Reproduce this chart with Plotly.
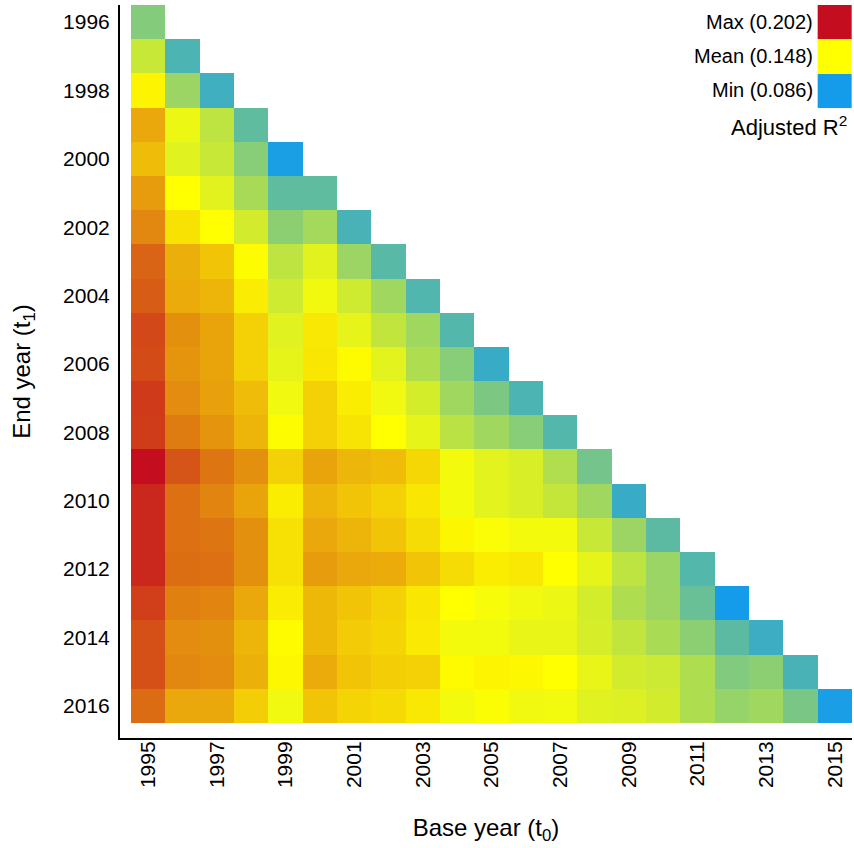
import plotly.graph_objects as go

base_years = list(range(1995, 2016))
end_years = list(range(1996, 2017))

# Adjusted R^2 for each end year (row), base years 1995 .. end-1
r2_1996 = [0.1156]
r2_1997 = [0.1335, 0.1008]
r2_1998 = [0.1505, 0.1219, 0.0976]
r2_1999 = [0.1675, 0.1430, 0.1309, 0.1060]
r2_2000 = [0.1630, 0.1398, 0.1335, 0.1166, 0.0876]
r2_2001 = [0.1702, 0.1480, 0.1400, 0.1250, 0.1060, 0.1060]
r2_2002 = [0.1747, 0.1545, 0.1480, 0.1361, 0.1177, 0.1240, 0.1000]
r2_2003 = [0.1827, 0.1660, 0.1612, 0.1487, 0.1309, 0.1400, 0.1220, 0.1040]
r2_2004 = [0.1845, 0.1666, 0.1648, 0.1523, 0.1351, 0.1442, 0.1351, 0.1230, 0.1020]
r2_2005 = [0.1890, 0.1729, 0.1684, 0.1585, 0.1398, 0.1532, 0.1414, 0.1320, 0.1230, 0.1030]
r2_2006 = [0.1880, 0.1720, 0.1684, 0.1585, 0.1414, 0.1536, 0.1490, 0.1403, 0.1270, 0.1166, 0.0955]
r2_2007 = [0.1920, 0.1738, 0.1693, 0.1630, 0.1440, 0.1585, 0.1520, 0.1440, 0.1367, 0.1230, 0.1135, 0.1008]
r2_2008 = [0.1917, 0.1774, 0.1720, 0.1648, 0.1487, 0.1585, 0.1540, 0.1480, 0.1414, 0.1300, 0.1230, 0.1166, 0.1030]
r2_2009 = [0.2020, 0.1863, 0.1790, 0.1729, 0.1585, 0.1684, 0.1643, 0.1630, 0.1570, 0.1451, 0.1403, 0.1377, 0.1272, 0.1113]
r2_2010 = [0.1962, 0.1800, 0.1755, 0.1684, 0.1520, 0.1648, 0.1612, 0.1585, 0.1536, 0.1451, 0.1403, 0.1377, 0.1324, 0.1230, 0.0955]
r2_2011 = [0.1962, 0.1800, 0.1790, 0.1729, 0.1550, 0.1675, 0.1648, 0.1612, 0.1558, 0.1500, 0.1466, 0.1450, 0.1450, 0.1335, 0.1219, 0.1050]
r2_2012 = [0.1962, 0.1805, 0.1800, 0.1729, 0.1550, 0.1702, 0.1675, 0.1666, 0.1612, 0.1558, 0.1520, 0.1532, 0.1480, 0.1414, 0.1309, 0.1214, 0.1030]
r2_2013 = [0.1910, 0.1765, 0.1755, 0.1675, 0.1523, 0.1639, 0.1612, 0.1585, 0.1536, 0.1480, 0.1460, 0.1440, 0.1430, 0.1367, 0.1270, 0.1219, 0.1085, 0.0860]
r2_2014 = [0.1872, 0.1738, 0.1729, 0.1648, 0.1490, 0.1639, 0.1594, 0.1576, 0.1527, 0.1451, 0.1446, 0.1419, 0.1419, 0.1372, 0.1320, 0.1256, 0.1177, 0.1050, 0.0966]
r2_2015 = [0.1872, 0.1747, 0.1738, 0.1657, 0.1495, 0.1666, 0.1612, 0.1590, 0.1585, 0.1490, 0.1505, 0.1496, 0.1480, 0.1419, 0.1361, 0.1345, 0.1270, 0.1150, 0.1177, 0.1000]
r2_2016 = [0.1810, 0.1675, 0.1675, 0.1590, 0.1440, 0.1612, 0.1576, 0.1563, 0.1532, 0.1451, 0.1469, 0.1440, 0.1446, 0.1398, 0.1388, 0.1361, 0.1270, 0.1203, 0.1230, 0.1129, 0.0875]

rows = [r2_1996, r2_1997, r2_1998, r2_1999, r2_2000, r2_2001, r2_2002, r2_2003,
        r2_2004, r2_2005, r2_2006, r2_2007, r2_2008, r2_2009, r2_2010, r2_2011,
        r2_2012, r2_2013, r2_2014, r2_2015, r2_2016]

legend_names = ["Max", "Mean", "Min"]
legend_values = [0.202, 0.148, 0.086]
x_ticks = list(range(1995, 2016, 2))
y_ticks = list(range(1996, 2017, 2))

vmax, vmean, vmin = legend_values
colorscale = [[0.0, "#149CEB"], [(vmean - vmin) / (vmax - vmin), "#FFFF00"], [1.0, "#C40E20"]]

z = [row + [None] * (len(base_years) - len(row)) for row in rows]

FONT = "Liberation Sans, Arial, sans-serif"

fig = go.Figure()
fig.add_trace(go.Heatmap(
    x=base_years, y=end_years, z=z,
    colorscale=colorscale, zmin=vmin, zmax=vmax,
    showscale=False, hoverongaps=False,
))
# legend swatches (top-right)
fig.add_trace(go.Heatmap(
    x=[base_years[-1]], y=end_years[:3], z=[[v] for v in legend_values],
    colorscale=colorscale, zmin=vmin, zmax=vmax, showscale=False,
))
for name, val, yy in zip(legend_names, legend_values, end_years[:3]):
    fig.add_annotation(x=base_years[-1] - 0.5, y=yy, xref="x", yref="y",
                       text=f"{name} ({val:.3f})", showarrow=False,
                       xanchor="right", yanchor="middle", xshift=-3,
                       font=dict(family=FONT, size=20, color="black"))
fig.add_annotation(x=base_years[-1] + 0.5, y=end_years[3] + 0.05, xref="x", yref="y",
                   text="Adjusted R<sup>2</sup>", showarrow=False,
                   xanchor="right", yanchor="middle", xshift=-3,
                   font=dict(family=FONT, size=22, color="black"))

fig.update_layout(
    width=854, height=848,
    margin=dict(l=120, r=2, t=5, b=110),
    paper_bgcolor="white", plot_bgcolor="white",
    font=dict(family=FONT, size=21, color="black"),
    showlegend=False,
)
fig.update_xaxes(
    range=[1994.18, 2015.5], tickvals=x_ticks, ticktext=[str(t) for t in x_ticks],
    tickangle=-90, ticks="", ticklabelstandoff=-7,
    showline=True, linecolor="black", linewidth=2,
    showgrid=False, zeroline=False,
    tickfont=dict(family=FONT, size=21, color="black"),
    title=dict(text="Base year (t<sub>0</sub>)", font=dict(family=FONT, size=24, color="black"), standoff=32),
)
fig.update_yaxes(
    range=[2016.94, 1995.5], tickvals=y_ticks, ticktext=[str(t) for t in y_ticks],
    ticks="", ticklabelstandoff=4,
    showline=True, linecolor="black", linewidth=2,
    showgrid=False, zeroline=False,
    tickfont=dict(family=FONT, size=21, color="black"),
    title=dict(text="End year (t<sub>1</sub>)", font=dict(family=FONT, size=24, color="black"), standoff=26),
)

fig.write_html("out.html", config={"displayModeBar": False},
               post_script="document.body.style.margin='0px';document.body.style.padding='0px';")
